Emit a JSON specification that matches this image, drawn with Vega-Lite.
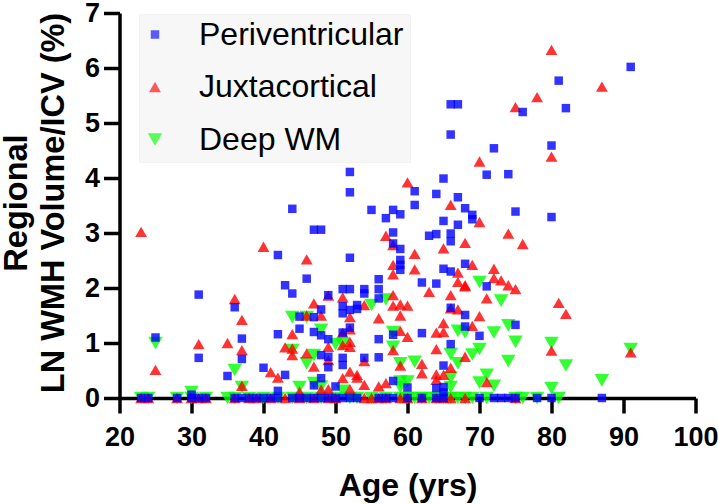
{"$schema":"https://vega.github.io/schema/vega-lite/v6.json","width":576,"height":385,"autosize":"none","padding":{"left":119.5,"top":13,"right":22.5,"bottom":106},"background":"white","config":{"view":{"stroke":null},"font":"Liberation Sans"},
"data":{"values":[
{"g":"D","x":70,"y":2.11},{"g":"D","x":73,"y":1.77},{"g":"D","x":74,"y":1.32},{"g":"D","x":75,"y":1.02},{"g":"D","x":72,"y":1.19},{"g":"D","x":67,"y":1.22},{"g":"D","x":68,"y":1.19},{"g":"D","x":70,"y":0.89},{"g":"D","x":69,"y":0.79},{"g":"D","x":66,"y":0.8},{"g":"D","x":67,"y":0.63},{"g":"D","x":61,"y":0.66},{"g":"D","x":59,"y":0.63},{"g":"D","x":58,"y":0.93},{"g":"D","x":58,"y":1.2},{"g":"D","x":74,"y":0.67},{"g":"D","x":80,"y":1.0},{"g":"D","x":91,"y":0.89},{"g":"D","x":82,"y":0.59},{"g":"D","x":87,"y":0.32},{"g":"D","x":80,"y":0.18},{"g":"D","x":71,"y":0.42},{"g":"D","x":70,"y":0.28},{"g":"D","x":72,"y":0.22},{"g":"D","x":66,"y":0.37},{"g":"D","x":66,"y":0.2},{"g":"D","x":59,"y":0.3},{"g":"D","x":59,"y":0.2},{"g":"D","x":25,"y":1.0},{"g":"D","x":36,"y":0.51},{"g":"D","x":44,"y":1.47},{"g":"D","x":46,"y":1.47},{"g":"D","x":48,"y":1.24},{"g":"D","x":55,"y":1.69},{"g":"D","x":57,"y":1.79},{"g":"D","x":50,"y":0.98},{"g":"D","x":51,"y":0.98},{"g":"D","x":47,"y":0.78},{"g":"D","x":46,"y":0.63},{"g":"D","x":44,"y":0.87},{"g":"D","x":45,"y":0.2},{"g":"D","x":47,"y":0.27},{"g":"D","x":48,"y":0.21},{"g":"D","x":30,"y":0.11},{"g":"D","x":37,"y":0.2},{"g":"D","x":51,"y":0.13},{"g":"D","x":60,"y":0.3},
{"g":"D","x":23,"y":0},{"g":"D","x":24,"y":0},{"g":"D","x":28,"y":0},{"g":"D","x":30,"y":0},{"g":"D","x":32,"y":0},{"g":"D","x":35,"y":0},{"g":"D","x":36,"y":0},{"g":"D","x":38,"y":0},{"g":"D","x":40,"y":0},{"g":"D","x":42,"y":0},{"g":"D","x":44,"y":0},{"g":"D","x":46,"y":0},{"g":"D","x":48,"y":0},{"g":"D","x":50,"y":0},{"g":"D","x":52,"y":0},{"g":"D","x":53,"y":0},{"g":"D","x":55,"y":0},{"g":"D","x":57,"y":0},{"g":"D","x":59,"y":0},{"g":"D","x":60,"y":0},{"g":"D","x":61,"y":0},{"g":"D","x":62,"y":0},{"g":"D","x":63,"y":0},{"g":"D","x":64,"y":0},{"g":"D","x":65,"y":0},{"g":"D","x":66,"y":0},{"g":"D","x":67,"y":0},{"g":"D","x":68,"y":0},{"g":"D","x":69,"y":0},{"g":"D","x":71,"y":0},{"g":"D","x":75,"y":0},{"g":"D","x":76,"y":0},{"g":"D","x":78,"y":0},{"g":"D","x":81,"y":0},
{"g":"J","x":80,"y":6.33},{"g":"J","x":87,"y":5.66},{"g":"J","x":78,"y":5.47},{"g":"J","x":75,"y":5.29},{"g":"J","x":80,"y":4.39},{"g":"J","x":70,"y":4.3},{"g":"J","x":60,"y":3.92},{"g":"J","x":66,"y":3.51},{"g":"J","x":70,"y":3.2},{"g":"J","x":74,"y":2.99},{"g":"J","x":76,"y":2.8},{"g":"J","x":68,"y":2.82},{"g":"J","x":65,"y":2.72},{"g":"J","x":61,"y":2.62},{"g":"J","x":61,"y":2.34},{"g":"J","x":69,"y":2.42},{"g":"J","x":72,"y":2.35},{"g":"J","x":72,"y":2.18},{"g":"J","x":73,"y":2.14},{"g":"J","x":74,"y":2.05},{"g":"J","x":67,"y":2.28},{"g":"J","x":67,"y":2.11},{"g":"J","x":68,"y":2.05},{"g":"J","x":68,"y":2.03},{"g":"J","x":58,"y":2.42},{"g":"J","x":58,"y":2.25},{"g":"J","x":75,"y":1.98},{"g":"J","x":71,"y":1.81},{"g":"J","x":63,"y":1.93},{"g":"J","x":66,"y":1.87},{"g":"J","x":58,"y":1.87},{"g":"J","x":58,"y":1.68},{"g":"J","x":59,"y":1.7},{"g":"J","x":60,"y":1.68},{"g":"J","x":59,"y":1.5},{"g":"J","x":66,"y":1.63},{"g":"J","x":67,"y":1.61},{"g":"J","x":70,"y":1.49},{"g":"J","x":81,"y":1.73},{"g":"J","x":82,"y":1.53},{"g":"J","x":65,"y":1.36},{"g":"J","x":64,"y":1.19},{"g":"J","x":65,"y":1.2},{"g":"J","x":69,"y":1.31},{"g":"J","x":59,"y":1.22},{"g":"J","x":60,"y":1.11},{"g":"J","x":58,"y":0.87},{"g":"J","x":64,"y":0.89},{"g":"J","x":80,"y":0.86},{"g":"J","x":91,"y":0.83},{"g":"J","x":68,"y":0.75},{"g":"J","x":59,"y":0.59},{"g":"J","x":62,"y":0.62},{"g":"J","x":62,"y":0.45},{"g":"J","x":66,"y":0.55},{"g":"J","x":64,"y":0.43},{"g":"J","x":64,"y":0.33},{"g":"J","x":65,"y":0.42},{"g":"J","x":71,"y":0.29},{"g":"J","x":23,"y":3.02},{"g":"J","x":40,"y":2.75},{"g":"J","x":46,"y":2.52},{"g":"J","x":57,"y":2.95},{"g":"J","x":58,"y":2.78},{"g":"J","x":36,"y":1.8},{"g":"J","x":49,"y":1.86},{"g":"J","x":47,"y":1.72},{"g":"J","x":51,"y":1.83},{"g":"J","x":54,"y":1.69},{"g":"J","x":37,"y":1.42},{"g":"J","x":46,"y":1.5},{"g":"J","x":48,"y":1.5},{"g":"J","x":52,"y":1.47},{"g":"J","x":56,"y":1.45},{"g":"J","x":44,"y":1.16},{"g":"J","x":51,"y":1.19},{"g":"J","x":52,"y":1.25},{"g":"J","x":31,"y":0.98},{"g":"J","x":35,"y":1.0},{"g":"J","x":37,"y":0.87},{"g":"J","x":43,"y":0.92},{"g":"J","x":44,"y":0.9},{"g":"J","x":44,"y":0.78},{"g":"J","x":46,"y":0.81},{"g":"J","x":49,"y":0.93},{"g":"J","x":51,"y":0.96},{"g":"J","x":52,"y":1.02},{"g":"J","x":52,"y":0.93},{"g":"J","x":49,"y":0.69},{"g":"J","x":54,"y":0.67},{"g":"J","x":47,"y":0.57},{"g":"J","x":25,"y":0.51},{"g":"J","x":41,"y":0.47},{"g":"J","x":42,"y":0.37},{"g":"J","x":52,"y":0.48},{"g":"J","x":51,"y":0.36},{"g":"J","x":53,"y":0.42},{"g":"J","x":53,"y":0.37},{"g":"J","x":54,"y":0.24},{"g":"J","x":37,"y":0.22},{"g":"J","x":57,"y":0.27},{"g":"J","x":56,"y":0.21},{"g":"J","x":49,"y":0.16},{"g":"J","x":52,"y":0.16},{"g":"J","x":48,"y":0.15},{"g":"J","x":45,"y":0.11},
{"g":"J","x":23,"y":0},{"g":"J","x":24,"y":0},{"g":"J","x":28,"y":0},{"g":"J","x":30,"y":0},{"g":"J","x":31,"y":0},{"g":"J","x":32,"y":0},{"g":"J","x":36,"y":0},{"g":"J","x":38,"y":0},{"g":"J","x":39,"y":0},{"g":"J","x":41,"y":0},{"g":"J","x":43,"y":0},{"g":"J","x":45,"y":0},{"g":"J","x":47,"y":0},{"g":"J","x":49,"y":0},{"g":"J","x":50,"y":0},{"g":"J","x":54,"y":0},{"g":"J","x":55,"y":0},{"g":"J","x":56,"y":0},{"g":"J","x":57,"y":0},{"g":"J","x":59,"y":0},{"g":"J","x":60,"y":0},{"g":"J","x":62,"y":0},{"g":"J","x":64,"y":0},{"g":"J","x":65,"y":0},{"g":"J","x":66,"y":0},{"g":"J","x":68,"y":0},{"g":"J","x":75,"y":0},
{"g":"P","x":59,"y":5.22},{"g":"P","x":58,"y":4.39},{"g":"P","x":52,"y":4.11},{"g":"P","x":52,"y":3.74},{"g":"P","x":44,"y":3.44},{"g":"P","x":55,"y":3.42},{"g":"P","x":58,"y":3.42},{"g":"P","x":66,"y":5.34},{"g":"P","x":67,"y":5.34},{"g":"P","x":66,"y":4.79},{"g":"P","x":72,"y":4.54},{"g":"P","x":80,"y":4.59},{"g":"P","x":91,"y":6.02},{"g":"P","x":81,"y":5.77},{"g":"P","x":82,"y":5.27},{"g":"P","x":76,"y":5.2},{"g":"P","x":65,"y":3.99},{"g":"P","x":71,"y":4.06},{"g":"P","x":74,"y":4.07},{"g":"P","x":61,"y":3.76},{"g":"P","x":64,"y":3.71},{"g":"P","x":67,"y":3.65},{"g":"P","x":61,"y":3.51},{"g":"P","x":68,"y":3.45},{"g":"P","x":75,"y":3.39},{"g":"P","x":59,"y":3.34},{"g":"P","x":57,"y":3.27},{"g":"P","x":47,"y":3.06},{"g":"P","x":48,"y":3.06},{"g":"P","x":58,"y":3.01},{"g":"P","x":58,"y":2.81},{"g":"P","x":59,"y":2.71},{"g":"P","x":42,"y":2.6},{"g":"P","x":52,"y":2.55},{"g":"P","x":59,"y":2.51},{"g":"P","x":59,"y":2.42},{"g":"P","x":59,"y":2.33},{"g":"P","x":46,"y":2.17},{"g":"P","x":56,"y":2.16},{"g":"P","x":43,"y":2.05},{"g":"P","x":69,"y":3.33},{"g":"P","x":69,"y":3.25},{"g":"P","x":65,"y":3.22},{"g":"P","x":67,"y":3.15},{"g":"P","x":64,"y":2.98},{"g":"P","x":63,"y":2.95},{"g":"P","x":66,"y":2.99},{"g":"P","x":66,"y":2.85},{"g":"P","x":80,"y":3.29},{"g":"P","x":68,"y":2.44},{"g":"P","x":65,"y":2.35},{"g":"P","x":66,"y":2.3},{"g":"P","x":62,"y":2.1},{"g":"P","x":64,"y":2.08},{"g":"P","x":71,"y":2.03},{"g":"P","x":44,"y":1.9},{"g":"P","x":49,"y":1.87},{"g":"P","x":51,"y":1.98},{"g":"P","x":52,"y":1.98},{"g":"P","x":54,"y":1.98},{"g":"P","x":54,"y":1.9},{"g":"P","x":56,"y":1.98},{"g":"P","x":56,"y":1.81},{"g":"P","x":51,"y":1.67},{"g":"P","x":51,"y":1.54},{"g":"P","x":53,"y":1.69},{"g":"P","x":53,"y":1.62},{"g":"P","x":52,"y":1.6},{"g":"P","x":52,"y":1.28},{"g":"P","x":48,"y":1.61},{"g":"P","x":45,"y":1.48},{"g":"P","x":47,"y":1.47},{"g":"P","x":45,"y":1.26},{"g":"P","x":47,"y":1.2},{"g":"P","x":48,"y":1.14},{"g":"P","x":49,"y":1.07},{"g":"P","x":51,"y":1.19},{"g":"P","x":42,"y":1.16},{"g":"P","x":56,"y":1.07},{"g":"P","x":58,"y":1.15},{"g":"P","x":48,"y":0.78},{"g":"P","x":49,"y":0.75},{"g":"P","x":49,"y":0.56},{"g":"P","x":51,"y":0.73},{"g":"P","x":51,"y":0.6},{"g":"P","x":54,"y":0.73},{"g":"P","x":56,"y":0.74},{"g":"P","x":40,"y":0.55},{"g":"P","x":43,"y":0.42},{"g":"P","x":42,"y":0.13},{"g":"P","x":48,"y":0.36},{"g":"P","x":47,"y":0.23},{"g":"P","x":50,"y":0.21},{"g":"P","x":58,"y":0.31},{"g":"P","x":60,"y":0.19},{"g":"P","x":66,"y":1.64},{"g":"P","x":68,"y":1.51},{"g":"P","x":68,"y":1.3},{"g":"P","x":70,"y":1.13},{"g":"P","x":75,"y":1.33},{"g":"P","x":62,"y":1.18},{"g":"P","x":66,"y":0.98},{"g":"P","x":65,"y":0.59},{"g":"P","x":64,"y":0.18},{"g":"P","x":65,"y":0.2},{"g":"P","x":65,"y":0.1},{"g":"P","x":31,"y":1.88},{"g":"P","x":25,"y":1.1},{"g":"P","x":31,"y":0.73},{"g":"P","x":36,"y":1.65},{"g":"P","x":37,"y":1.08},{"g":"P","x":37,"y":0.71},{"g":"P","x":35,"y":0.4},{"g":"P","x":30,"y":0.06},
{"g":"P","x":23,"y":0},{"g":"P","x":24,"y":0},{"g":"P","x":28,"y":0},{"g":"P","x":30,"y":0},{"g":"P","x":31,"y":0},{"g":"P","x":32,"y":0},{"g":"P","x":36,"y":0},{"g":"P","x":37,"y":0},{"g":"P","x":38,"y":0},{"g":"P","x":39,"y":0},{"g":"P","x":40,"y":0},{"g":"P","x":41,"y":0},{"g":"P","x":42,"y":0},{"g":"P","x":44,"y":0},{"g":"P","x":45,"y":0},{"g":"P","x":46,"y":0},{"g":"P","x":47,"y":0},{"g":"P","x":48,"y":0},{"g":"P","x":49,"y":0},{"g":"P","x":50,"y":0},{"g":"P","x":51,"y":0},{"g":"P","x":52,"y":0},{"g":"P","x":53,"y":0},{"g":"P","x":56,"y":0},{"g":"P","x":57,"y":0},{"g":"P","x":58,"y":0},{"g":"P","x":60,"y":0},{"g":"P","x":62,"y":0},{"g":"P","x":64,"y":0},{"g":"P","x":65,"y":0},{"g":"P","x":70,"y":0},{"g":"P","x":72,"y":0},{"g":"P","x":73,"y":0},{"g":"P","x":74,"y":0},{"g":"P","x":75,"y":0},{"g":"P","x":78,"y":0},{"g":"P","x":80,"y":0},{"g":"P","x":87,"y":0}
]},
"transform":[{"lookup":"g","from":{"data":{"values":[{"k":"D","Region":"Deep WM"},{"k":"J","Region":"Juxtacortical"},{"k":"P","Region":"Periventricular"}]},"key":"k","fields":["Region"]}}],
"mark":{"type":"point","filled":true,"opacity":0.8,"clip":false,"strokeWidth":0},
"encoding":{
"x":{"field":"x","type":"quantitative","scale":{"domain":[20,100],"nice":false,"zero":false},"axis":{"values":[20,30,40,50,60,70,80,90,100],"grid":false,"title":"Age (yrs)","domainWidth":3.5,"domainColor":"#000","tickColor":"#000","tickWidth":3.5,"tickSize":15,"labelFont":"Liberation Sans","labelFontWeight":"bold","labelFontSize":27,"labelColor":"#000","labelPadding":11,"titleFont":"Liberation Sans","titleFontWeight":"bold","titleFontSize":32,"titleColor":"#000","titlePadding":20,"labelOverlap":false,"labelFlush":false}},
"y":{"field":"y","type":"quantitative","scale":{"domain":[0,7],"nice":false},"axis":{"values":[0,1,2,3,4,5,6,7],"grid":false,"title":["Regional","LN WMH Volume/ICV (%)"],"domainWidth":3.5,"domainColor":"#000","tickColor":"#000","tickWidth":3.5,"tickSize":16,"labelFont":"Liberation Sans","labelFontWeight":"bold","labelFontSize":27,"labelColor":"#000","labelPadding":4,"titleFont":"Liberation Sans","titleFontWeight":"bold","titleFontSize":32.5,"titleColor":"#000","titlePadding":14,"titleLineHeight":37,"titleY":189.5}},
"color":{"field":"Region","type":"nominal","scale":{"domain":["Periventricular","Juxtacortical","Deep WM"],"range":["#0000ff","#ff0000","#00ff00"]},"legend":{"orient":"none","legendX":19.5,"legendY":1,"zindex":0,"title":null,"fillColor":"#f7f7f7","strokeColor":"#f2f2f2","padding":6,"labelFont":"Liberation Sans","labelFontSize":32,"labelColor":"#000","labelLimit":400,"labelOffset":28,"symbolOffset":-6,"symbolOpacity":0.8,"rowPadding":19.5,"clipHeight":29,"symbolStrokeWidth":0}},
"shape":{"field":"Region","type":"nominal","scale":{"domain":["Periventricular","Juxtacortical","Deep WM"],"range":["square","triangle-up","triangle-down"]}},
"size":{"field":"Region","type":"nominal","scale":{"domain":["Periventricular","Juxtacortical","Deep WM"],"range":[72,210,210]}}
}}
